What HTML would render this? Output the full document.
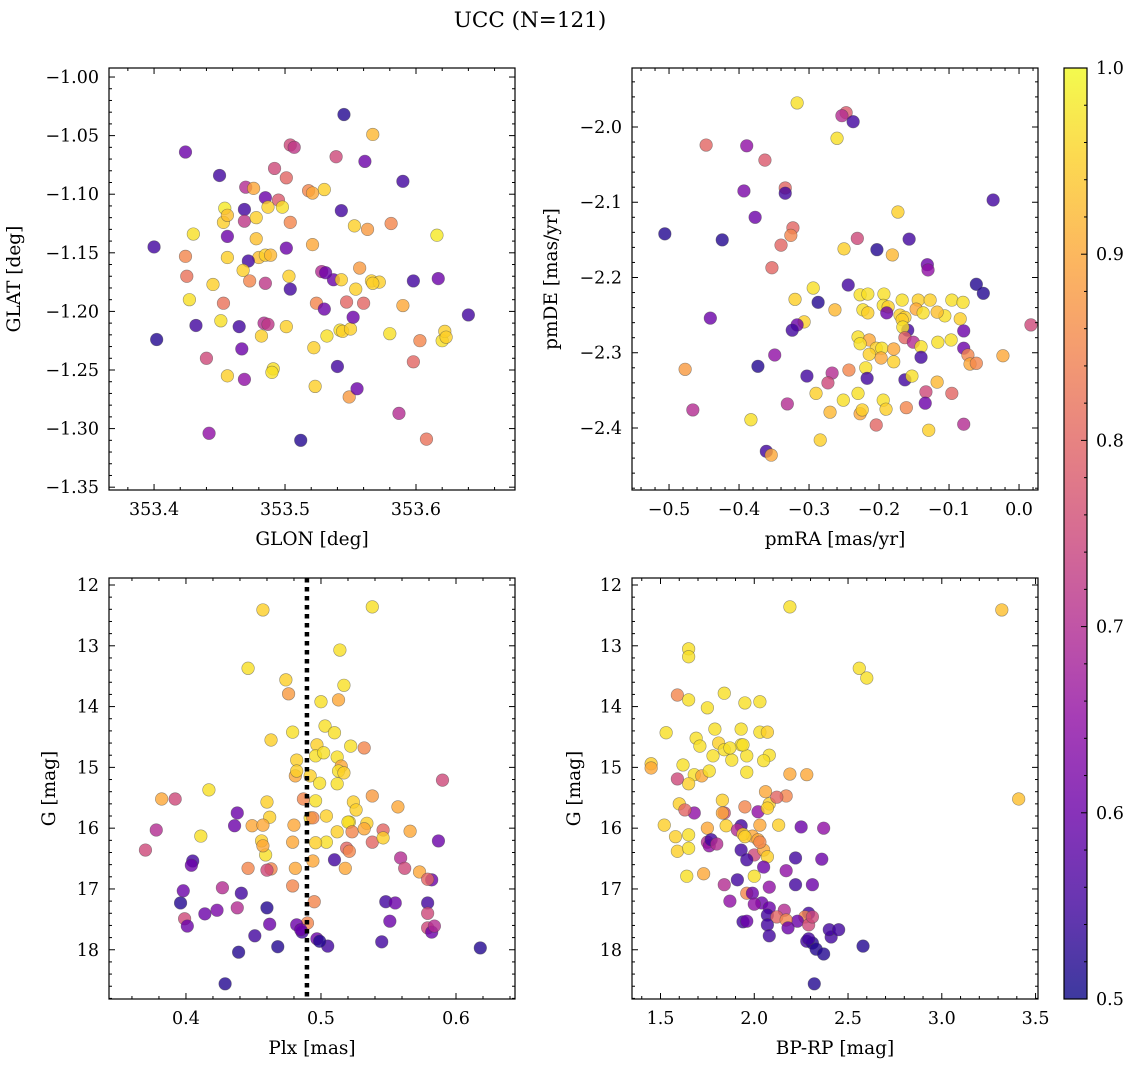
<!DOCTYPE html>
<html><head><meta charset="utf-8">
<style>
html,body{margin:0;padding:0;background:#fff;}
svg{display:block;font-family:"DejaVu Serif","Liberation Serif",serif;}
</style></head>
<body>
<svg id="fig" width="1136" height="1067" viewBox="0 0 1136 1067" xmlns="http://www.w3.org/2000/svg">
<defs>
<linearGradient id="plasmaGrad" x1="0" y1="1" x2="0" y2="0">
<stop offset="0" stop-color="#0d0887"/><stop offset="0.1" stop-color="#41049d"/><stop offset="0.2" stop-color="#6a00a8"/><stop offset="0.3" stop-color="#8f0da4"/><stop offset="0.4" stop-color="#b12a90"/><stop offset="0.5" stop-color="#cc4778"/><stop offset="0.6" stop-color="#e16462"/><stop offset="0.7" stop-color="#f2844b"/><stop offset="0.8" stop-color="#fca636"/><stop offset="0.9" stop-color="#fcce25"/><stop offset="1" stop-color="#f0f921"/>
</linearGradient>
</defs>
<text x="530" y="27" font-size="21.5" text-anchor="middle">UCC (N=121)</text>
</svg>
<script>
// Panel 1: GLON vs GLAT
const glon=[353.545,353.424,353.567,353.561,353.450,353.504,353.507,353.492,353.539,353.501,353.470,353.476,353.530,353.485,353.495,353.518,353.590,353.454,353.469,353.487,353.498,353.543,353.430,353.453,353.469,353.478,353.504,353.553,353.563,353.581,353.616,353.400,353.424,353.456,353.478,353.480,353.456,353.485,353.489,353.472,353.501,353.521,353.468,353.425,353.445,353.473,353.485,353.503,353.504,353.528,353.537,353.543,353.557,353.566,353.572,353.617,353.598,353.531,353.427,353.453,353.524,353.547,353.554,353.560,353.590,353.640,353.402,353.432,353.451,353.465,353.484,353.487,353.501,353.482,353.530,353.542,353.544,353.550,353.552,353.580,353.603,353.620,353.622,353.467,353.522,353.532,353.598,353.440,353.540,353.491,353.490,353.456,353.469,353.523,353.549,353.555,353.587,353.442,353.512,353.608,353.567,353.521,353.623,353.456];
const glat=[-1.032,-1.064,-1.049,-1.072,-1.084,-1.058,-1.060,-1.078,-1.068,-1.086,-1.094,-1.095,-1.096,-1.103,-1.105,-1.097,-1.089,-1.112,-1.113,-1.111,-1.111,-1.114,-1.134,-1.124,-1.123,-1.120,-1.124,-1.127,-1.130,-1.125,-1.135,-1.145,-1.153,-1.136,-1.138,-1.154,-1.154,-1.152,-1.152,-1.157,-1.146,-1.143,-1.165,-1.170,-1.177,-1.174,-1.176,-1.170,-1.181,-1.166,-1.173,-1.173,-1.163,-1.174,-1.175,-1.172,-1.174,-1.167,-1.190,-1.193,-1.193,-1.192,-1.181,-1.193,-1.195,-1.203,-1.224,-1.212,-1.208,-1.213,-1.210,-1.211,-1.213,-1.221,-1.198,-1.216,-1.217,-1.215,-1.205,-1.219,-1.225,-1.225,-1.217,-1.232,-1.231,-1.221,-1.243,-1.240,-1.247,-1.249,-1.252,-1.255,-1.258,-1.264,-1.273,-1.266,-1.287,-1.304,-1.310,-1.309,-1.176,-1.099,-1.222,-1.118];
const prob1=[0.52,0.6,0.92,0.6,0.55,0.75,0.72,0.75,0.75,0.8,0.7,0.9,0.95,0.6,0.78,0.85,0.55,0.98,0.55,0.95,0.97,0.55,0.97,0.95,0.72,0.95,0.85,0.95,0.88,0.85,0.98,0.55,0.85,0.6,0.93,0.93,0.95,0.95,0.92,0.55,0.6,0.9,0.95,0.82,0.95,0.85,0.72,0.95,0.55,0.7,0.6,0.95,0.88,0.95,0.95,0.6,0.55,0.6,0.97,0.82,0.85,0.8,0.95,0.8,0.9,0.55,0.52,0.55,0.97,0.55,0.7,0.72,0.95,0.95,0.6,0.97,0.95,0.95,0.6,0.97,0.85,0.97,0.95,0.6,0.95,0.97,0.8,0.75,0.55,0.97,0.97,0.95,0.65,0.95,0.88,0.6,0.7,0.65,0.52,0.82,0.95,0.9,0.95,0.93];
// Panel 2: pmRA vs pmDE
const pmra=[-0.317,-0.247,-0.253,-0.237,-0.260,-0.447,-0.389,-0.037,-0.363,-0.393,-0.334,-0.334,-0.377,-0.173,-0.506,-0.424,-0.323,-0.326,-0.231,-0.157,-0.203,-0.340,-0.181,-0.250,-0.353,-0.131,-0.130,-0.061,-0.051,-0.244,-0.227,-0.294,-0.216,-0.193,-0.194,-0.187,-0.167,-0.144,-0.127,-0.096,-0.080,-0.147,-0.320,0.017,-0.441,-0.263,-0.223,-0.216,-0.189,-0.170,-0.163,-0.137,-0.106,-0.117,-0.084,-0.079,-0.167,-0.307,-0.317,-0.324,-0.159,-0.230,-0.214,-0.166,-0.227,-0.163,-0.151,-0.204,-0.196,-0.179,-0.140,-0.140,-0.116,-0.097,-0.079,-0.073,-0.070,-0.023,-0.061,-0.179,-0.197,-0.219,-0.243,-0.214,-0.267,-0.303,-0.349,-0.273,-0.477,-0.163,-0.117,-0.153,-0.096,-0.331,-0.290,-0.230,-0.133,-0.194,-0.227,-0.251,-0.373,-0.466,-0.134,-0.270,-0.161,-0.190,-0.079,-0.129,-0.204,-0.224,-0.284,-0.383,-0.361,-0.354,-0.217,-0.287];
const pmde=[-1.968,-1.981,-1.985,-1.993,-2.015,-2.024,-2.025,-2.097,-2.044,-2.085,-2.081,-2.088,-2.120,-2.113,-2.142,-2.150,-2.134,-2.144,-2.148,-2.149,-2.163,-2.157,-2.170,-2.162,-2.187,-2.183,-2.190,-2.209,-2.221,-2.210,-2.223,-2.214,-2.222,-2.222,-2.237,-2.239,-2.230,-2.230,-2.230,-2.230,-2.233,-2.242,-2.229,-2.263,-2.254,-2.243,-2.243,-2.247,-2.247,-2.250,-2.253,-2.247,-2.251,-2.246,-2.255,-2.271,-2.256,-2.259,-2.263,-2.270,-2.270,-2.279,-2.283,-2.266,-2.288,-2.280,-2.286,-2.294,-2.294,-2.295,-2.292,-2.306,-2.286,-2.283,-2.294,-2.303,-2.315,-2.304,-2.314,-2.312,-2.307,-2.320,-2.323,-2.302,-2.327,-2.331,-2.303,-2.340,-2.322,-2.336,-2.339,-2.331,-2.354,-2.368,-2.354,-2.354,-2.352,-2.363,-2.381,-2.363,-2.318,-2.376,-2.367,-2.379,-2.373,-2.375,-2.395,-2.403,-2.396,-2.376,-2.416,-2.389,-2.431,-2.436,-2.334,-2.233];
const prob2=[0.97,0.78,0.7,0.55,0.97,0.8,0.65,0.55,0.78,0.62,0.8,0.55,0.6,0.95,0.52,0.52,0.8,0.85,0.75,0.55,0.52,0.8,0.92,0.95,0.8,0.6,0.65,0.52,0.52,0.55,0.97,0.97,0.97,0.97,0.97,0.95,0.97,0.95,0.95,0.97,0.97,0.9,0.95,0.75,0.6,0.92,0.97,0.95,0.6,0.95,0.95,0.97,0.97,0.93,0.95,0.6,0.95,0.95,0.6,0.55,0.55,0.97,0.9,0.97,0.97,0.8,0.7,0.95,0.97,0.9,0.97,0.55,0.97,0.97,0.6,0.85,0.9,0.9,0.85,0.95,0.9,0.97,0.85,0.95,0.7,0.55,0.65,0.75,0.88,0.55,0.92,0.97,0.8,0.7,0.95,0.97,0.75,0.97,0.9,0.97,0.52,0.7,0.6,0.92,0.85,0.95,0.7,0.95,0.8,0.95,0.95,0.97,0.55,0.9,0.55,0.52];
// Panel 3: Plx vs G
const plx=[0.457,0.538,0.514,0.446,0.474,0.476,0.517,0.513,0.500,0.463,0.479,0.503,0.510,0.497,0.522,0.482,0.496,0.502,0.512,0.515,0.532,0.513,0.517,0.481,0.482,0.492,0.499,0.512,0.417,0.538,0.590,0.382,0.392,0.460,0.496,0.492,0.462,0.524,0.557,0.487,0.438,0.494,0.504,0.521,0.534,0.526,0.436,0.449,0.457,0.480,0.512,0.520,0.523,0.532,0.546,0.587,0.538,0.546,0.566,0.504,0.519,0.521,0.456,0.459,0.457,0.479,0.496,0.411,0.370,0.378,0.494,0.559,0.446,0.463,0.460,0.481,0.510,0.405,0.404,0.518,0.573,0.562,0.582,0.579,0.479,0.427,0.441,0.396,0.438,0.495,0.548,0.555,0.579,0.398,0.399,0.401,0.579,0.551,0.490,0.414,0.423,0.462,0.482,0.486,0.579,0.582,0.451,0.485,0.497,0.505,0.499,0.545,0.618,0.439,0.468,0.429,0.584,0.460];
const gmag3=[12.41,12.36,13.07,13.37,13.56,13.79,13.65,13.89,13.92,14.55,14.42,14.32,14.43,14.63,14.65,14.88,14.81,14.76,14.83,14.98,14.68,15.06,15.09,15.14,15.06,15.14,15.26,15.27,15.37,15.47,15.21,15.52,15.52,15.57,15.55,15.83,15.82,15.57,15.65,15.52,15.75,15.83,15.80,15.90,15.92,15.70,15.96,15.96,15.95,15.95,16.06,15.90,16.06,16.01,16.03,16.21,16.23,16.16,16.05,16.23,16.33,16.38,16.21,16.44,16.29,16.23,16.24,16.13,16.36,16.03,16.54,16.49,16.66,16.67,16.69,16.66,16.52,16.54,16.61,16.66,16.72,16.66,16.85,16.84,16.95,16.98,17.07,17.23,17.31,17.21,17.21,17.23,17.23,17.03,17.49,17.61,17.40,17.53,17.56,17.41,17.35,17.58,17.59,17.71,17.64,17.71,17.77,17.67,17.82,17.94,17.86,17.87,17.97,18.04,17.95,18.56,17.61,17.31];
const prob3=[0.95,0.97,0.97,0.97,0.95,0.88,0.97,0.9,0.97,0.95,0.97,0.97,0.97,0.95,0.97,0.95,0.97,0.97,0.97,0.9,0.85,0.97,0.95,0.9,0.95,0.95,0.97,0.97,0.97,0.88,0.75,0.9,0.75,0.95,0.97,0.97,0.95,0.95,0.9,0.85,0.6,0.85,0.95,0.97,0.95,0.95,0.6,0.9,0.9,0.9,0.95,0.97,0.85,0.9,0.8,0.6,0.8,0.95,0.9,0.97,0.8,0.85,0.95,0.97,0.9,0.9,0.95,0.97,0.75,0.7,0.9,0.7,0.85,0.85,0.75,0.9,0.55,0.55,0.6,0.9,0.9,0.75,0.6,0.8,0.85,0.7,0.55,0.52,0.7,0.85,0.55,0.6,0.55,0.6,0.75,0.6,0.75,0.6,0.85,0.6,0.62,0.6,0.6,0.55,0.75,0.6,0.55,0.6,0.6,0.55,0.52,0.55,0.52,0.52,0.52,0.52,0.7,0.52];
const plxRef=[0.4896];
// Panel 4: BP-RP vs G
const bprp=[2.19,3.32,1.65,1.65,2.56,2.60,1.59,1.65,1.84,1.95,2.03,1.75,1.53,1.69,1.79,1.93,1.81,2.03,2.07,2.08,1.71,1.78,1.84,1.88,1.93,1.96,1.87,1.94,1.45,1.45,1.62,1.68,1.72,1.76,1.96,2.05,2.19,1.65,1.59,1.83,2.06,2.08,2.17,2.12,2.28,3.41,1.60,1.84,1.68,1.63,1.83,1.95,2.02,2.07,1.93,1.85,1.99,1.91,1.94,2.03,1.95,2.13,2.25,2.37,1.75,1.58,1.65,1.52,1.59,1.65,1.75,1.76,1.77,1.80,2.02,1.93,2.00,2.05,2.03,1.96,2.07,2.22,2.17,2.36,2.05,1.73,1.64,1.91,2.00,1.96,2.08,2.22,2.31,1.84,1.99,1.87,2.04,2.00,2.08,2.16,2.07,2.29,2.12,2.27,2.23,2.29,2.31,1.94,2.17,1.96,2.07,2.08,2.28,2.31,2.41,2.40,2.33,2.58,2.37,2.45,2.32,2.29,2.18];
const gmag4=[12.36,12.41,13.05,13.18,13.37,13.53,13.81,13.89,13.78,13.94,13.92,14.02,14.43,14.52,14.37,14.37,14.60,14.42,14.42,14.80,14.65,14.81,14.71,14.88,14.63,14.81,14.68,14.63,14.94,15.01,14.96,15.12,15.14,15.06,15.08,14.89,15.11,15.27,15.19,15.54,15.40,15.60,15.47,15.49,15.12,15.52,15.60,15.75,15.75,15.70,15.75,15.65,15.73,15.67,15.96,15.96,16.13,16.03,16.10,15.95,16.14,15.95,15.98,16.00,16.00,16.14,16.11,15.95,16.38,16.33,16.23,16.29,16.19,16.26,16.19,16.36,16.44,16.36,16.23,16.52,16.47,16.49,16.70,16.51,16.64,16.75,16.79,16.85,16.79,17.07,16.97,16.93,16.93,16.93,17.07,17.20,17.23,17.25,17.31,17.35,17.43,17.40,17.46,17.46,17.53,17.59,17.46,17.54,17.51,17.53,17.59,17.77,17.86,17.89,17.79,17.67,17.99,17.94,18.07,17.67,18.56,17.82,17.64];
const prob4=[0.97,0.93,0.97,0.97,0.97,0.97,0.85,0.97,0.97,0.97,0.97,0.97,0.97,0.97,0.97,0.97,0.95,0.97,0.95,0.97,0.97,0.97,0.97,0.97,0.97,0.97,0.97,0.97,0.95,0.9,0.97,0.97,0.9,0.97,0.97,0.97,0.9,0.95,0.75,0.95,0.9,0.95,0.85,0.8,0.9,0.93,0.95,0.75,0.65,0.8,0.9,0.85,0.65,0.95,0.55,0.95,0.9,0.7,0.95,0.9,0.95,0.95,0.6,0.65,0.9,0.95,0.97,0.95,0.95,0.97,0.7,0.65,0.55,0.7,0.9,0.55,0.75,0.9,0.85,0.55,0.95,0.55,0.65,0.6,0.6,0.9,0.97,0.55,0.97,0.85,0.65,0.55,0.6,0.7,0.6,0.65,0.6,0.65,0.6,0.7,0.55,0.55,0.8,0.85,0.6,0.75,0.75,0.55,0.85,0.6,0.55,0.55,0.55,0.52,0.55,0.55,0.52,0.52,0.52,0.55,0.52,0.55,0.6];
// Tick labels
const ticks1x=[353.4,353.5,353.6], ticks1y=[-1.00,-1.05,-1.10,-1.15,-1.20,-1.25,-1.30,-1.35];
const ticks2x=[-0.5,-0.4,-0.3,-0.2,-0.1,0.0], ticks2y=[-2.0,-2.1,-2.2,-2.3,-2.4];
const ticks3x=[0.4,0.5,0.6], ticksG=[12,13,14,15,16,17,18];
const ticks4x=[1.5,2.0,2.5,3.0,3.5];
const ticksCb=[0.5,0.6,0.7,0.8,0.9,1.0];

const NS="http://www.w3.org/2000/svg";
const svg=document.getElementById('fig');
const TFS=17.5, LFS=18.5;
function mk(tag,attrs,parent){const e=document.createElementNS(NS,tag);for(const k in attrs)e.setAttribute(k,attrs[k]);(parent||svg).appendChild(e);return e;}
const stops=[[13,8,135],[65,4,157],[106,0,168],[143,13,164],[177,42,144],[204,71,120],[225,100,98],[242,132,75],[252,166,54],[252,206,37],[240,249,33]];
function plasma(v){let t=(v-0.5)/0.5;t=Math.max(0,Math.min(1,t))*10;const i=Math.min(9,Math.floor(t)),f=t-i;const a=stops[i],b=stops[i+1];return 'rgb('+a.map((c,k)=>Math.round(c+(b[k]-c)*f)).join(',')+')';}
function fmt(v,d){return (v<0?'\u2212':'')+Math.abs(v).toFixed(d);}

function panel(name,box,xd,yd,xt,yt,xminor,yminor,xdec,ydec,xlabel,ylabel,ylx){
  const [x0,y0,x1,y1]=box;
  const sx=v=>x0+(v-xd[0])/(xd[1]-xd[0])*(x1-x0);
  const sy=v=>y0+(v-yd[0])/(yd[1]-yd[0])*(y1-y0);
  const g=mk('g',{});
  
  
  const ax={sx,sy,g};
  ax.frame=function(){
    const r=mk('rect',{x:x0,y:y0,width:x1-x0,height:y1-y0,fill:'none',stroke:'#000','stroke-width':1.2},g);
    
    
    const lo=Math.min(xd[0],xd[1]),hi=Math.max(xd[0],xd[1]);
    for(let v=Math.ceil(lo/xminor-1e-6)*xminor;v<=hi+1e-9;v+=xminor){
      const isMaj=xt.some(t=>Math.abs(t-v)<xminor/4);const L=isMaj?6:3;const px=sx(v);
      mk('line',{x1:px,x2:px,y1:y1,y2:y1-L,stroke:'#000','stroke-width':1},g);
      mk('line',{x1:px,x2:px,y1:y0,y2:y0+L,stroke:'#000','stroke-width':1},g);
    }
    const ylo=Math.min(yd[0],yd[1]),yhi=Math.max(yd[0],yd[1]);
    for(let v=Math.ceil(ylo/yminor-1e-6)*yminor;v<=yhi+1e-9;v+=yminor){
      const isMaj=yt.some(t=>Math.abs(t-v)<yminor/4);const L=isMaj?6:3;const py=sy(v);
      mk('line',{x1:x0,x2:x0+L,y1:py,y2:py,stroke:'#000','stroke-width':1},g);
      mk('line',{x1:x1,x2:x1-L,y1:py,y2:py,stroke:'#000','stroke-width':1},g);
    }
    xt.forEach(v=>{const t=mk('text',{x:sx(v),y:y1+25,'font-size':TFS,'text-anchor':'middle'},g);t.textContent=fmt(v,xdec);
      
      });
    yt.forEach(v=>{const t=mk('text',{x:x0-10,y:sy(v)+6,'font-size':TFS,'text-anchor':'end'},g);t.textContent=fmt(v,ydec);
      
      });
    const xl=mk('text',{x:(x0+x1)/2,y:y1+55,'font-size':LFS,'text-anchor':'middle'},g);xl.textContent=xlabel;
    
    
    const yl=mk('text',{x:ylx,y:(y0+y1)/2,'font-size':LFS,'text-anchor':'middle',transform:'rotate(-90 '+ylx+' '+((y0+y1)/2)+')'},g);yl.textContent=ylabel;
    
    
  };
  ax.points=function(xs,ys,cs){
    const clip='clip-'+name;
    const cp=mk('clipPath',{id:clip},g);mk('rect',{x:x0,y:y0,width:x1-x0,height:y1-y0},cp);
    const pg=mk('g',{'clip-path':'url(#'+clip+')'},g);
    
    
    xs.forEach((v,i)=>{
      const c=mk('circle',{cx:sx(v),cy:sy(ys[i]),r:6.3,fill:plasma(cs[i]),'fill-opacity':0.8,stroke:'rgba(70,70,70,0.55)','stroke-width':0.6},pg);
      
      
    });
  };
  return ax;
}

const a1=panel('glon-glat',[109,68,515,490],[353.3656,353.6756],[-0.9923,-1.3524],ticks1x,ticks1y,0.02,0.01,1,2,'GLON [deg]','GLAT [deg]',20);
a1.points(glon,glat,prob1);a1.frame();
const a2=panel('pm',[632,68,1038,490],[-0.5529,0.0271],[-1.9216,-2.4824],ticks2x,ticks2y,0.02,0.02,1,1,'pmRA [mas/yr]','pmDE [mas/yr]',557);
a2.points(pmra,pmde,prob2);a2.frame();
const a3=panel('plx-g',[109,578,515,999],[0.3430,0.6437],[11.885,18.81],ticks3x,ticksG,0.02,0.2,1,0,'Plx [mas]','G [mag]',55);
a3.points(plx,gmag3,prob3);
const ref=mk('line',{x1:a3.sx(plxRef[0]),x2:a3.sx(plxRef[0]),y1:578,y2:999,stroke:'#000','stroke-width':4.5,'stroke-dasharray':'4.5,4.5'});


a3.frame();
const a4=panel('cmd',[632,578,1038,999],[1.348,3.513],[11.885,18.81],ticks4x,ticksG,0.1,0.2,1,0,'BP-RP [mag]','G [mag]',580);
a4.points(bprp,gmag4,prob4);a4.frame();

// Colorbar
const cb=mk('g',{});


const cbx0=1064,cbx1=1087,cby0=68,cby1=999;
mk('rect',{x:cbx0,y:cby0,width:cbx1-cbx0,height:cby1-cby0,fill:'url(#plasmaGrad)','fill-opacity':0.8},cb);
mk('rect',{x:cbx0,y:cby0,width:cbx1-cbx0,height:cby1-cby0,fill:'none',stroke:'#000','stroke-width':1.2},cb);
const cy=v=>cby1-(v-0.5)/0.5*(cby1-cby0);
for(let k=0;k<=25;k++){const v=0.5+k*0.02;const maj=ticksCb.some(t=>Math.abs(t-v)<0.005);const L=maj?6:3;
  mk('line',{x1:cbx1,x2:cbx1-L,y1:cy(v),y2:cy(v),stroke:'#000','stroke-width':1},cb);}
ticksCb.forEach(v=>{const t=mk('text',{x:cbx1+9,y:cy(v)+6,'font-size':TFS},cb);t.textContent=v.toFixed(1);
  
  });
</script>
</body></html>
